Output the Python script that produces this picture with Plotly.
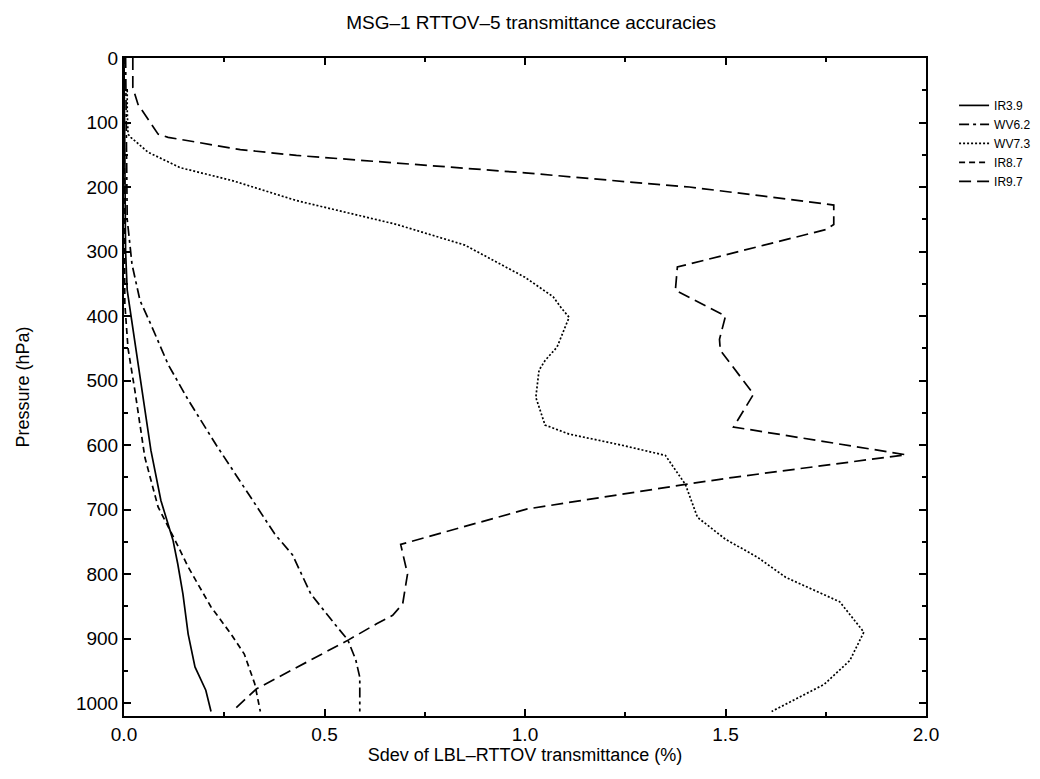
import plotly.graph_objects as go

# Pressure (hPa) and Sdev (%) values
ir39_p = [0.1, 150, 300, 360, 397, 506, 608, 686, 747, 784, 831, 893, 944, 980, 1013]
ir39_x = [0.0, 0.002, 0.004, 0.008, 0.017, 0.042, 0.067, 0.092, 0.122, 0.134, 0.147, 0.16, 0.177, 0.204, 0.217]

wv62_p = [0.1, 250, 320, 376, 413, 475, 530, 600, 681, 738, 770, 831, 877, 902, 933, 960, 1013]
wv62_x = [0.004, 0.008, 0.02, 0.04, 0.067, 0.11, 0.16, 0.23, 0.316, 0.376, 0.42, 0.466, 0.525, 0.558, 0.578, 0.588, 0.588]

wv73_p = [50, 80, 118, 123, 146, 170, 190, 221, 258, 290, 340, 370, 387, 402, 448, 469, 484, 526,
          569, 583, 600, 616, 661, 712, 746, 774, 805, 843, 890, 934, 971, 1013]
wv73_x = [0.008, 0.008, 0.01, 0.017, 0.06, 0.14, 0.27, 0.43, 0.68, 0.85, 1.0, 1.07, 1.09, 1.11, 1.08, 1.05, 1.035, 1.027,
          1.05, 1.11, 1.24, 1.35, 1.40, 1.43, 1.50, 1.58, 1.65, 1.785, 1.845, 1.81, 1.746, 1.615]

ir87_p = [0.1, 380, 450, 515, 619, 696, 747, 789, 851, 893, 924, 970, 1013]
ir87_x = [0.0, 0.002, 0.01, 0.027, 0.052, 0.085, 0.127, 0.16, 0.217, 0.267, 0.30, 0.326, 0.34]

ir97_p = [0.1, 46, 72, 118, 123, 142, 151, 163, 178, 196, 200, 213, 222, 228, 258, 266, 324, 360, 400,
          436, 453, 521, 572, 615, 650, 661, 699, 754, 800, 846, 864, 877, 902, 978, 1013]
ir97_x = [0.022, 0.022, 0.035, 0.085, 0.11, 0.29, 0.43, 0.68, 1.0, 1.33, 1.41, 1.58, 1.70, 1.77, 1.77, 1.75, 1.38, 1.375, 1.50,
          1.485, 1.487, 1.57, 1.52, 1.95, 1.52, 1.40, 1.006, 0.69, 0.707, 0.695, 0.67, 0.63, 0.56, 0.33, 0.27]

names = ["IR3.9", "WV6.2", "WV7.3", "IR8.7", "IR9.7"]
series = [(ir39_x, ir39_p), (wv62_x, wv62_p), (wv73_x, wv73_p), (ir87_x, ir87_p), (ir97_x, ir97_p)]
dashes = ["solid", "10px,4px,3px,4px", "2px,2px", "6px,4px", "12px,6px"]

xticks = [0.0, 0.5, 1.0, 1.5, 2.0]
yticks = [0, 100, 200, 300, 400, 500, 600, 700, 800, 900, 1000]

fig = go.Figure()
for name, (xs, ps), d in zip(names, series, dashes):
    fig.add_trace(go.Scatter(x=xs, y=ps, mode="lines", name=name,
                             line=dict(color="black", width=1.7, dash=d)))

font = "Liberation Sans, Arial, sans-serif"
fig.update_layout(
    width=1040, height=779,
    paper_bgcolor="white", plot_bgcolor="white",
    margin=dict(l=116, r=120, t=50, b=71),
    title=dict(text="MSG\u20131 RTTOV\u20135 transmittance accuracies", x=0.503, xanchor="center",
               y=0.99, yanchor="top", font=dict(family=font, size=19, color="black")),
    font=dict(family=font, color="black"),
    showlegend=True,
    legend=dict(x=1.035, y=0.95, xanchor="left", yanchor="top", bgcolor="rgba(0,0,0,0)",
                font=dict(family=font, size=12, color="black"), tracegroupgap=0,
                itemwidth=30),
    xaxis=dict(range=[0, 2], tickvals=xticks, ticktext=[f"{v:.1f}" for v in xticks],
               ticks="inside", ticklen=7, tickwidth=1.5, tickcolor="black",
               showline=True, linecolor="black", linewidth=2, mirror="ticks",
               showgrid=False, zeroline=False,
               minor=dict(dtick=0.25, ticks="inside", ticklen=4, tickcolor="black", showgrid=False),
               tickfont=dict(family=font, size=19, color="black"),
               title=dict(text="Sdev of LBL\u2013RTTOV transmittance (%)", standoff=0,
                          font=dict(family=font, size=18, color="black"))),
    yaxis=dict(range=[1020, 0], tickvals=yticks,
               ticks="inside", ticklen=7, tickwidth=1.5, tickcolor="black",
               showline=True, linecolor="black", linewidth=2, mirror="ticks",
               showgrid=False, zeroline=False,
               minor=dict(dtick=50, ticks="inside", ticklen=4, tickcolor="black", showgrid=False),
               tickfont=dict(family=font, size=19, color="black"),
               title=dict(text="Pressure (hPa)", standoff=42,
                          font=dict(family=font, size=18, color="black"))),
)

fig.write_html("out.html")
